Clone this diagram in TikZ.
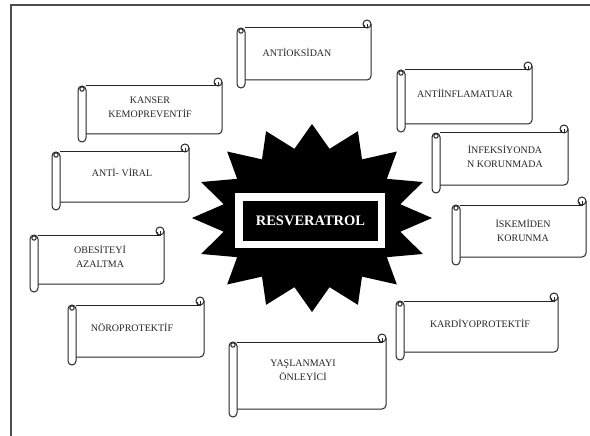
\documentclass[tikz,border=0pt]{standalone}
\usepackage{fontspec}
\setmainfont{Liberation Serif}
\usepackage{tikz}

% scroll outline: x0, y0 (top of curl), x1, y1 (bottom of roll)
\newcommand{\scrollshape}[4]{
\fill[white] (#1+8,#2+8) rectangle (#3,#4-8);
\draw[scrollline] (#1+8,#2+8) -- (#3-4,#2+8);
\draw[scrollline,rounded corners=4] (#3,#2+4) -- (#3,#4-8) -- (#1+8,#4-8);
\draw[scrollline] (#3-4,#2+4) circle (4);
\draw[scrollline] (#3-4,#2+4) -- (#3-4,#2+8) -- (#3-7,#2+8) -- (#3-7,#2+5);
\filldraw[scrollline,fill=white,rounded corners=4] (#1,#2+8) rectangle (#1+8,#4);
\draw[scrollline] (#1+4,#2+11) circle (2.2);
}

\begin{document}
\begin{tikzpicture}[x=1pt, y=-1pt,
    scrollline/.style={line width=1pt, draw=black!85},
    scrolltext/.style={align=center, inner sep=0pt, font=\fontsize{10}{14}\selectfont, text=black!85}]
\useasboundingbox (0,0) rectangle (590,436);
\draw[line width=1.3pt, black!70] (11,436) -- (11,5) -- (590,5);

% star with the title
\fill[black] plot[samples at={0,...,31}]
    ({312+120*(1-0.25*mod(\x,2))*cos(\x*11.25)}, {218+94*(1-0.25*mod(\x,2))*sin(\x*11.25)}) -- cycle;
\fill[white] (235,193) rectangle (385,248);
\draw (310.5,221) node (Resv) [fill=black, text=white, minimum width=135pt, minimum height=40pt,
    font=\fontsize{14.5}{16}\selectfont\bfseries] {RESVERATROL};

\scrollshape{237}{20}{371}{88}
\draw (297,52) node (Antiox) [scrolltext] {ANTİOKSİDAN};

\scrollshape{78}{78}{222}{142}
\draw (150,107) node (Kanser) [scrolltext] {KANSER\\KEMOPREVENTİF};

\scrollshape{52}{144}{189}{210}
\draw (122,172) node (Viral) [scrolltext] {ANTİ- VİRAL};

\scrollshape{30}{227}{164}{292}
\draw (100,256) node (Obes) [scrolltext] {OBESİTEYİ\\AZALTMA};

\scrollshape{68}{297}{204}{365}
\draw (132,327) node (Noro) [scrolltext] {NÖROPROTEKTİF};

\scrollshape{229}{334}{386}{417}
\draw (303,370) node (Yasl) [scrolltext] {YAŞLANMAYI\\ÖNLEYİCİ};

\scrollshape{396}{293}{558}{360}
\draw (480,323) node (Kardiyo) [scrolltext] {KARDİYOPROTEKTİF};

\scrollshape{452}{197}{586}{265}
\draw (523,230) node (Iskemi) [scrolltext] {İSKEMİDEN\\KORUNMA};

\scrollshape{432}{125}{568}{193}
\draw (505,156) node (Infeks) [scrolltext] {İNFEKSİYONDA\\N KORUNMADA};

\scrollshape{397}{62}{532}{132}
\draw (465,93) node (Inflam) [scrolltext] {ANTİİNFLAMATUAR};

\end{tikzpicture}
\end{document}
